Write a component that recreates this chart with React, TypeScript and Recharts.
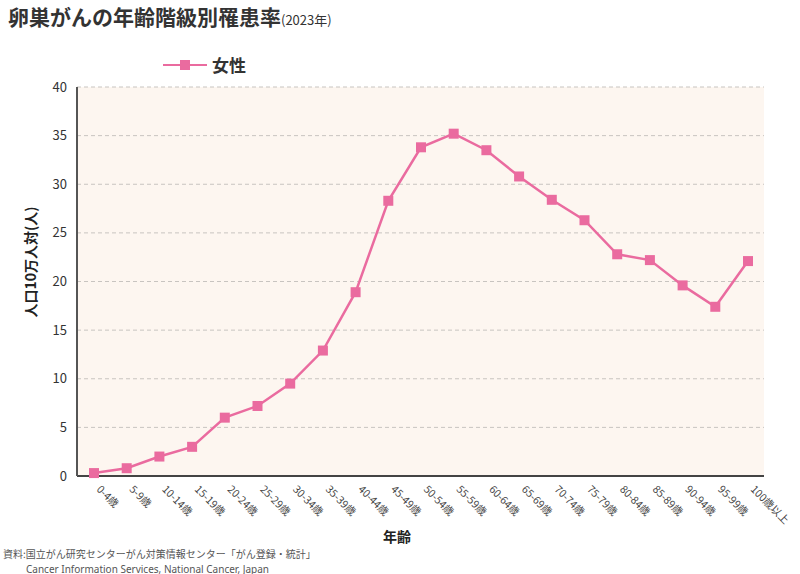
import React from "react";
import { CartesianGrid, Legend, Line, LineChart, XAxis, YAxis } from "recharts";

const ageGroups = [
  "0-4歳", "5-9歳", "10-14歳", "15-19歳", "20-24歳", "25-29歳", "30-34歳",
  "35-39歳", "40-44歳", "45-49歳", "50-54歳", "55-59歳", "60-64歳", "65-69歳",
  "70-74歳", "75-79歳", "80-84歳", "85-89歳", "90-94歳", "95-99歳", "100歳以上",
];
const femaleRates = [
  0.3, 0.8, 2.0, 3.0, 6.0, 7.2, 9.5, 12.9, 18.9, 28.3, 33.8,
  35.2, 33.5, 30.8, 28.4, 26.3, 22.8, 22.2, 19.6, 17.4, 22.1,
];
const yTicks = [0, 5, 10, 15, 20, 25, 30, 35, 40];

const data = ageGroups.map((age, i) => ({ age, female: femaleRates[i] }));

const PINK = "#ea6b9f";
const FONT = '"Noto Sans CJK JP", "Noto Sans", sans-serif';

function SquareDot({ cx, cy }: { cx?: number; cy?: number }) {
  if (cx == null || cy == null) return null;
  return <rect x={cx - 5} y={cy - 5} width={10} height={10} fill={PINK} />;
}

function AgeTick({ x, y, payload }: { x?: number; y?: number; payload?: { value: string } }) {
  return (
    <g transform={`translate(${(x ?? 0) + 2},${(y ?? 0) + 6})`}>
      <text transform="rotate(45)" textAnchor="start" fontSize={10.5} fill="#444" fontFamily={FONT}>
        {payload?.value}
      </text>
    </g>
  );
}

function LegendContent() {
  return (
    <div style={{ display: "flex", alignItems: "center", fontFamily: FONT, height: 20 }}>
      <svg width={44} height={12}>
        <line x1={0} y1={6} x2={44} y2={6} stroke={PINK} strokeWidth={2} />
        <rect x={17} y={1} width={10} height={10} fill={PINK} />
      </svg>
      <span style={{ marginLeft: 5, fontSize: 17, fontWeight: 700, color: "#333", lineHeight: "20px" }}>女性</span>
    </div>
  );
}

export default function App() {
  return (
    <div style={{ position: "absolute", left: 0, top: 0, width: 800, height: 574, background: "#fff", fontFamily: FONT }}>
      <div style={{ position: "absolute", left: 8, top: 1, color: "#333", whiteSpace: "nowrap" }}>
        <span style={{ fontSize: 21, fontWeight: 700 }}>卵巣がんの年齢階級別罹患率</span>
        <span style={{ fontSize: 13 }}>(2023年)</span>
      </div>

      <LineChart
        width={800}
        height={574}
        data={data}
        margin={{ top: 67, right: 36, bottom: 38, left: 0 }}
      >
        <CartesianGrid
          vertical={false}
          stroke="#c8c4c0"
          strokeDasharray="4 3"
          fill="#fdf6f0"
          fillOpacity={1}
        />
        <XAxis
          dataKey="age"
          interval={0}
          tickLine={false}
          axisLine={{ stroke: "#444", strokeWidth: 2 }}
          padding={{ left: 17, right: 16 }}
          height={60}
          tick={<AgeTick />}
        />
        <YAxis
          domain={[0, 40]}
          ticks={yTicks}
          width={77}
          tickLine={false}
          axisLine={{ stroke: "#555", strokeWidth: 2 }}
          tick={{ fill: "#333", fontSize: 13, fontFamily: FONT }}
          tickMargin={4}
        />
        <Legend
          verticalAlign="top"
          content={<LegendContent />}
          wrapperStyle={{ position: "absolute", left: 163, top: 55, width: "auto" }}
        />
        <Line
          dataKey="female"
          name="女性"
          stroke={PINK}
          strokeWidth={2.5}
          dot={<SquareDot />}
          activeDot={false}
          isAnimationActive={false}
        />
      </LineChart>

      <div
        style={{
          position: "absolute",
          left: 30,
          top: 262,
          transform: "translate(-50%, -50%) rotate(-90deg)",
          fontSize: 14,
          fontWeight: 700,
          color: "#222",
          whiteSpace: "nowrap",
        }}
      >
        人口10万人対(人)
      </div>
      <div
        style={{
          position: "absolute",
          left: 397,
          top: 536,
          transform: "translate(-50%, -50%)",
          fontSize: 14,
          fontWeight: 700,
          color: "#222",
        }}
      >
        年齢
      </div>
      <div style={{ position: "absolute", left: 3, top: 547.5, fontSize: 10, color: "#555", lineHeight: "12px", whiteSpace: "nowrap" }}>
        資料:国立がん研究センターがん対策情報センター「がん登録・統計」
      </div>
      <div
        style={{
          position: "absolute",
          left: 26,
          top: 562.5,
          fontSize: 10,
          color: "#555",
          lineHeight: "12px",
          whiteSpace: "nowrap",
          fontFamily: '"Noto Sans", sans-serif',
        }}
      >
        Cancer Information Services, National Cancer, Japan
      </div>
    </div>
  );
}
